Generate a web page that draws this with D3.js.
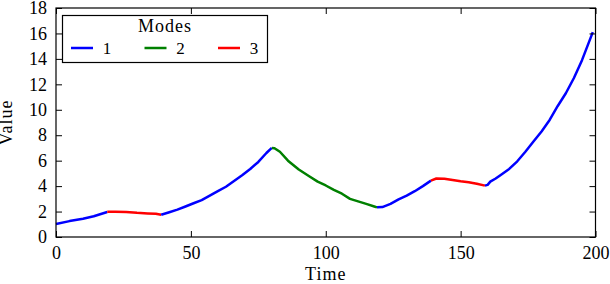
<!DOCTYPE html>
<html>
<head>
<meta charset="utf-8">
<script src="https://cdn.jsdelivr.net/npm/d3@7"></script>
<style>
  body { margin: 0; background: #fff; }
</style>
</head>
<body>
<div id="chart"></div>
<script>
// data, one array pair per mode segment
const modes = ["1", "2", "3"];
const modeColors = ["#0000ff", "#008000", "#ff0000"];

const seg1T = [0, 5, 10, 14, 19];
const seg1V = [1.02, 1.25, 1.44, 1.63, 1.97];
const seg2T = [19, 22, 26, 30, 34, 37, 39];
const seg2V = [1.99, 1.99, 1.97, 1.9, 1.85, 1.82, 1.75];
const seg3T = [39, 42, 45, 48, 51, 54, 57, 60, 63, 66, 69, 72, 75, 78, 80];
const seg3V = [1.75, 1.95, 2.15, 2.4, 2.65, 2.9, 3.25, 3.6, 3.95, 4.4, 4.85, 5.35, 5.9, 6.6, 7.0];
const seg4T = [80, 81, 83, 86, 90, 94, 97, 100, 103, 106, 109, 112, 115, 118, 119];
const seg4V = [7.0, 6.98, 6.7, 6.0, 5.3, 4.75, 4.35, 4.05, 3.7, 3.4, 3.0, 2.8, 2.6, 2.4, 2.33];
const seg5T = [119, 121, 124, 127, 130, 133, 136, 139];
const seg5V = [2.33, 2.35, 2.6, 2.95, 3.25, 3.6, 4.0, 4.43];
const seg6T = [139, 141, 144, 147, 150, 153, 156, 159];
const seg6V = [4.43, 4.6, 4.58, 4.48, 4.38, 4.3, 4.18, 4.04];
const seg7T = [159, 160, 161, 163, 165, 168, 171, 174, 177, 180, 183, 186, 189, 192, 195, 199];
const seg7V = [4.04, 4.1, 4.35, 4.6, 4.9, 5.35, 5.95, 6.7, 7.5, 8.3, 9.2, 10.3, 11.3, 12.5, 13.9, 16.1];

const segTimes = [seg1T, seg2T, seg3T, seg4T, seg5T, seg6T, seg7T];
const segValues = [seg1V, seg2V, seg3V, seg4V, seg5V, seg6V, seg7V];
const segModes = [0, 2, 0, 1, 0, 2, 0];

const xTicks = [0, 50, 100, 150, 200];
const yTicks = [0, 2, 4, 6, 8, 10, 12, 14, 16, 18];

const w = 610, h = 284;
const margin = {top: 8, right: 14.5, bottom: 47, left: 56};
const serif = "Liberation Serif";

const svg = d3.select("#chart").append("svg")
  .attr("width", w)
  .attr("height", h);

const x = d3.scaleLinear().domain([0, 200]).range([margin.left, w - margin.right]);
const y = d3.scaleLinear().domain([0, 18]).range([h - margin.bottom, margin.top]);

//the lines
const line = d3.line().x(d => x(d[0])).y(d => y(d[1]));
segTimes.forEach((ts, i) => {
  const pts = ts.map((t, j) => [t, segValues[i][j]]);
  svg.append("path")
    .datum(pts)
    .attr("d", line)
    .attr("fill", "none")
    .attr("stroke", modeColors[segModes[i]])
    .attr("stroke-width", 2.5)
    .attr("stroke-linejoin", "round");
});

//axes with inward ticks on all four sides
const tk = 6;
svg.append("g")
  .attr("transform", "translate(0," + (h - margin.bottom) + ")")
  .call(d3.axisBottom(x).tickValues(xTicks).tickSizeInner(-tk).tickSizeOuter(0).tickPadding(9))
  .attr("font-family", serif).attr("font-size", 18)
  .call(g => g.select(".domain").remove());
svg.append("g")
  .attr("transform", "translate(0," + margin.top + ")")
  .call(d3.axisTop(x).tickValues(xTicks).tickSizeInner(-tk).tickSizeOuter(0).tickFormat(""))
  .call(g => g.select(".domain").remove());
svg.append("g")
  .attr("transform", "translate(" + margin.left + ",0)")
  .call(d3.axisLeft(y).tickValues(yTicks).tickSizeInner(-tk).tickSizeOuter(0).tickPadding(9))
  .attr("font-family", serif).attr("font-size", 18)
  .call(g => g.select(".domain").remove());
svg.append("g")
  .attr("transform", "translate(" + (w - margin.right) + ",0)")
  .call(d3.axisRight(y).tickValues(yTicks).tickSizeInner(-tk).tickSizeOuter(0).tickFormat(""))
  .call(g => g.select(".domain").remove());

svg.selectAll(".tick line").attr("stroke", "#000");
svg.selectAll(".tick text").attr("fill", "#000");

//frame
svg.append("rect")
  .attr("x", margin.left)
  .attr("y", margin.top)
  .attr("width", w - margin.left - margin.right)
  .attr("height", h - margin.top - margin.bottom)
  .attr("fill", "none")
  .attr("stroke", "#000")
  .attr("stroke-width", 1.2);

//axis labels
svg.append("text")
  .attr("x", (margin.left + w - margin.right) / 2)
  .attr("y", 280)
  .attr("text-anchor", "middle")
  .attr("font-family", serif)
  .attr("font-size", 18)
  .attr("letter-spacing", 1)
  .text("Time");
svg.append("text")
  .attr("transform", "translate(12," + ((margin.top + h - margin.bottom) / 2) + ") rotate(-90)")
  .attr("text-anchor", "middle")
  .attr("font-family", serif)
  .attr("font-size", 18)
  .attr("letter-spacing", 1)
  .text("Value");

//legend
const legend = svg.append("g").attr("id", "legend");
legend.append("rect")
  .attr("x", 62.5).attr("y", 15.5)
  .attr("width", 205).attr("height", 47)
  .attr("fill", "#fff")
  .attr("stroke", "#000")
  .attr("stroke-width", 1.2);
legend.append("text")
  .attr("x", 165).attr("y", 32)
  .attr("text-anchor", "middle")
  .attr("font-family", serif)
  .attr("font-size", 18)
  .attr("letter-spacing", 1)
  .text("Modes");
modes.forEach((m, i) => {
  const lx = 71 + i * 73.5;
  legend.append("line")
    .attr("x1", lx).attr("x2", lx + 22)
    .attr("y1", 48).attr("y2", 48)
    .attr("stroke", modeColors[i])
    .attr("stroke-width", 2.5);
  legend.append("text")
    .attr("x", lx + 36).attr("y", 54)
    .attr("text-anchor", "middle")
    .attr("font-family", serif)
    .attr("font-size", 17)
    .text(m);
});
</script>
</body>
</html>
